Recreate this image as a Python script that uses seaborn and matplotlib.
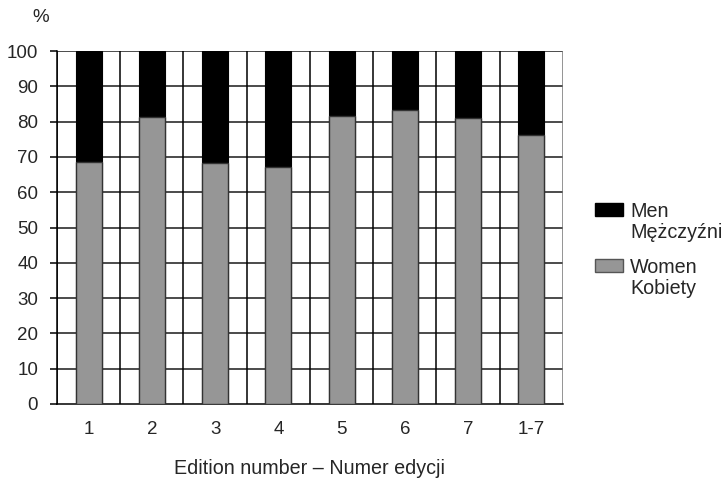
import pandas as pd
import matplotlib.pyplot as plt
import seaborn as sns
from matplotlib.patches import Rectangle

# values (share of women, %)
editions = ['1', '2', '3', '4', '5', '6', '7', '1-7']
women = [68.5, 81.3, 68.2, 67.1, 81.7, 83.2, 81.1, 76.1]
men = [100 - w for w in women]

data = pd.DataFrame({'Edition': editions, 'Women': women, 'Men': men})
data['Total'] = data['Women'] + data['Men']

sns.set_style('white')
plt.rcParams['font.family'] = ['Liberation Sans', 'DejaVu Sans']

W, H = 723, 480
fig = plt.figure(figsize=(W / 100, H / 100), dpi=100)
ax = fig.add_axes([57 / W, 1 - 404 / H, 506 / W, 353 / H])

# horizontal grid + vertical separators behind the bars
for v in range(10, 101, 10):
    ax.axhline(v, color='#1a1a1a', lw=1.1, zorder=0)
for i in range(len(editions) + 1):
    ax.axvline(i - 0.5, color='black' if i < len(editions) else '#777777', lw=1.1, zorder=0)

sns.barplot(x='Edition', y='Total', data=data, color='black', width=0.41,
            edgecolor='black', linewidth=0.8, saturation=1, ax=ax, zorder=2)
sns.barplot(x='Edition', y='Women', data=data, color='#969696', width=0.41,
            edgecolor='#333333', linewidth=1.0, saturation=1, ax=ax, zorder=3)

ax.set_xlim(-0.5, len(editions) - 0.5)
ax.set_ylim(0, 100)
ax.set_yticks(range(0, 101, 10))
ax.tick_params(axis='y', length=5, width=1.1, color='black', labelsize=13.5, pad=8.5,
               direction='out', left=True)
ax.tick_params(axis='x', length=0, labelsize=13.5, pad=12.5)
for s in ['top', 'right']:
    ax.spines[s].set_visible(False)
for s in ['left', 'bottom']:
    ax.spines[s].set_color('black')
    ax.spines[s].set_linewidth(1.1)

ax.set_ylabel('')
ax.set_xlabel('Edition number – Numer edycji', fontsize=14.2, labelpad=15)
fig.text(41 / W, 1 - 18 / H, '%', fontsize=13.5, ha='center', va='center')

# legend: square aligned with the first line of each two-line label
legend_items = [('black', 'black', 'Men\nMężczyźni', 203),
                ('#969696', '#555555', 'Women\nKobiety', 259)]
for face, edge, label, top in legend_items:
    fig.patches.append(Rectangle((595 / W, 1 - (top + 13) / H), 28 / W, 13 / H,
                                 facecolor=face, edgecolor=edge, lw=1,
                                 transform=fig.transFigure, figure=fig))
    fig.text(630 / W, 1 - (top - 1) / H, label, fontsize=14.2, ha='left', va='top',
             linespacing=1.1)

fig.savefig('out.png', dpi=100)
